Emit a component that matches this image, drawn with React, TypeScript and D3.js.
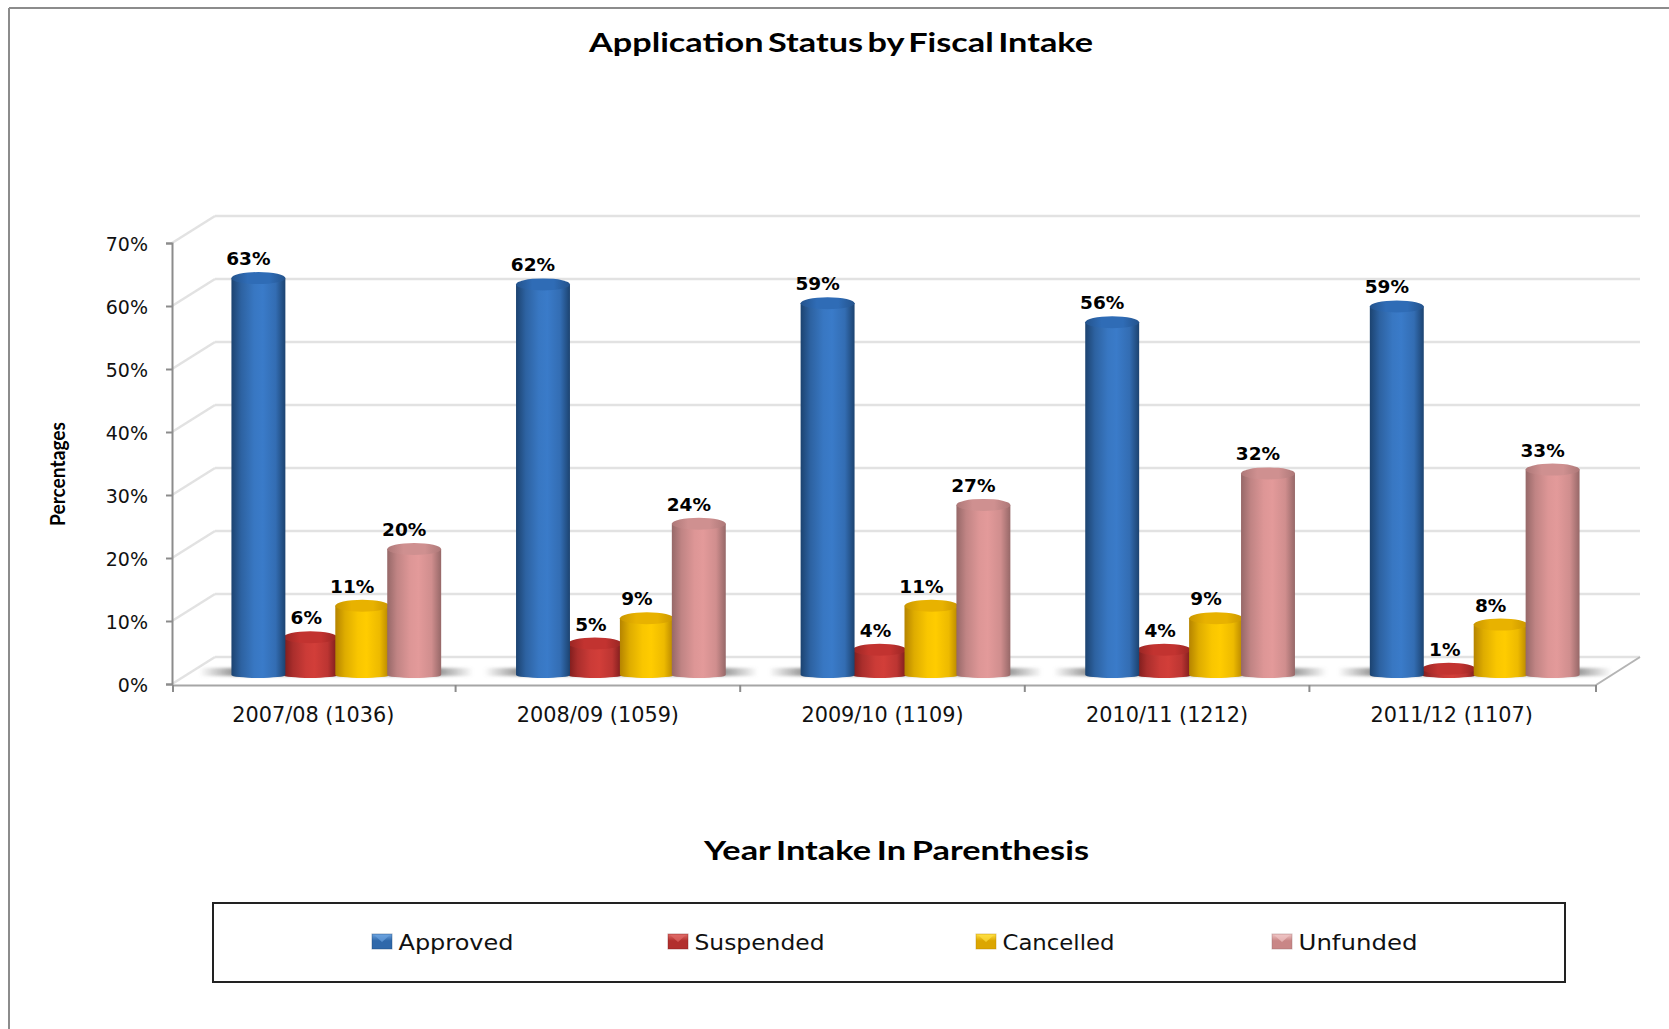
import * as d3 from "d3";
import React, { useRef, useEffect } from 'react'

const categories = ["2007/08 (1036)", "2008/09 (1059)", "2009/10 (1109)", "2010/11 (1212)", "2011/12 (1107)"]
const seriesNames = ["Approved", "Suspended", "Cancelled", "Unfunded"]
const approved = [63, 62, 59, 56, 58.5]
const suspended = [6, 5, 4, 4, 1]
const cancelled = [11, 9, 11, 9, 8]
const unfunded = [20, 24, 27, 32, 32.6]
const yTicks = [0, 10, 20, 30, 40, 50, 60, 70]

const seriesValues = [approved, suspended, cancelled, unfunded]

// edge, centre, top of each cylinder
const barColors = [
  { edge: "#1c4370", mid: "#3a7bc9", top: "#2f6cb6", swatch: "#2f68aa", light: "#6ba3e0" },
  { edge: "#7a1b1b", mid: "#d23e39", top: "#c23330", swatch: "#b22f2d", light: "#e06a66" },
  { edge: "#b58400", mid: "#ffcc00", top: "#e8b200", swatch: "#dca600", light: "#ffdf40" },
  { edge: "#966868", mid: "#e39a9a", top: "#cf9090", swatch: "#c98686", light: "#f0c4c4" },
]

// the order the cylinders overlap in
const drawOrder = [1, 0, 2, 3]
const labelShift = [-10, -4, -10, -10]
const legendX = [372, 668, 976, 1272]
const legendW = [115, 130, 112, 119]

const W = 1669
const H = 1029
const depthX = 43
const depthY = 27
const axisFont = "'DejaVu Sans', sans-serif"
const titleFont = "Lato, sans-serif"

const x = d3.scaleBand(categories, [173, 1596])
const y = d3.scaleLinear([0, 70], [684, 243])
const inner = d3.scaleBand(seriesNames, [0, x.bandwidth()]).paddingOuter(0.74)

// bars stand about half way into the floor
const barX = (cat: string, name: string) => (x(cat) as number) + 20 + (inner(name) as number)
const barY = (v: number) => y(v) - 9
const barW = inner.bandwidth() + 2

const cylinder = (x0: number, top: number, w: number) => {
  const bottom = barY(0)
  return `M${x0},${top} L${x0},${bottom} A${w / 2},3 0 0 0 ${x0 + w},${bottom} L${x0 + w},${top} Z`
}

const App: React.FC = () => {
  const gx = useRef<SVGGElement>(null)
  const gy = useRef<SVGGElement>(null)

  useEffect(() => {
    if (gy.current) {
      const g = d3.select(gy.current)
      g.call(d3.axisLeft(y).tickValues(yTicks).tickSize(6).tickPadding(18).tickFormat(d => `${d}%`))
      g.selectAll("path,line").attr("stroke", "#8c8c8c").attr("stroke-width", 2)
      g.selectAll("text").attr("font-size", 19).attr("font-family", axisFont).attr("fill", "#111").attr("dy", "0.42em")
    }
    if (gx.current) {
      const g = d3.select(gx.current)
      g.call(d3.axisBottom(x).tickSize(0).tickPadding(22))
      g.select("path").attr("stroke", "#a6a6a6").attr("stroke-width", 2)
      g.selectAll("text").attr("font-size", 20.8).attr("font-family", axisFont).attr("fill", "#111").attr("dx", -2)
      g.selectAll("line.edge")
        .data([...categories.map((c, i) => (x(c) as number) - (i ? 2 : 0)), 1596])
        .join("line")
        .attr("class", "edge")
        .attr("x1", d => d).attr("x2", d => d)
        .attr("y1", 0).attr("y2", 7)
        .attr("stroke", "#8c8c8c").attr("stroke-width", 2)
    }
  }, [])

  return (
    <svg width={W} height={H} style={{ position: "absolute", left: 0, top: 0, background: "#fff" }}>
      <defs>
        {barColors.map((c, i) => {
          const mix = d3.interpolateRgb(c.edge, c.mid)
          const mixTop = d3.interpolateRgb(c.edge, c.top)
          return (
            <React.Fragment key={i}>
              <linearGradient id={`body${i}`} x1="0" x2="1" y1="0" y2="0">
                <stop offset="0" stopColor={c.edge} />
                <stop offset="0.18" stopColor={mix(0.55)} />
                <stop offset="0.42" stopColor={mix(0.92)} />
                <stop offset="0.58" stopColor={c.mid} />
                <stop offset="0.82" stopColor={mix(0.75)} />
                <stop offset="1" stopColor={c.edge} />
              </linearGradient>
              <linearGradient id={`cap${i}`} x1="0" x2="1" y1="0" y2="0">
                <stop offset="0" stopColor={mixTop(0.4)} />
                <stop offset="0.3" stopColor={c.top} />
                <stop offset="0.7" stopColor={c.top} />
                <stop offset="1" stopColor={mixTop(0.4)} />
              </linearGradient>
              <linearGradient id={`swatch${i}`} x1="0" x2="0" y1="0" y2="1">
                <stop offset="0" stopColor={c.light} />
                <stop offset="0.45" stopColor={c.swatch} />
                <stop offset="1" stopColor={c.swatch} />
              </linearGradient>
            </React.Fragment>
          )
        })}
        <linearGradient id="floorShadow" x1="0" x2="1" y1="0" y2="0">
          <stop offset="0" stopColor="#808080" stopOpacity={0} />
          <stop offset="0.13" stopColor="#808080" stopOpacity={0.85} />
          <stop offset="0.87" stopColor="#808080" stopOpacity={0.85} />
          <stop offset="1" stopColor="#808080" stopOpacity={0} />
        </linearGradient>
        <filter id="soft" x="-10%" y="-50%" width="120%" height="200%">
          <feGaussianBlur stdDeviation="1.5" />
        </filter>
      </defs>

      {/* outer frame, only top and left show */}
      <line x1={9} x2={W} y1={8} y2={8} stroke="#8c8c8c" strokeWidth={2} />
      <line x1={9} x2={9} y1={8} y2={H} stroke="#8c8c8c" strokeWidth={2} />

      <text x={589} y={52} fontFamily={titleFont} fontWeight={700} fontSize={27} wordSpacing={-3} textLength={504} lengthAdjust="spacingAndGlyphs">
        Application Status by Fiscal Intake
      </text>

      {/* back wall and side wall */}
      {yTicks.map(t => (
        <g key={t} stroke="#e2e2e2" strokeWidth={2.5} fill="none">
          <line x1={172 + depthX} x2={1640} y1={y(t) - depthY} y2={y(t) - depthY} />
          <line x1={172} x2={172 + depthX} y1={y(t)} y2={y(t) - depthY} />
        </g>
      ))}
      <line x1={1596} x2={1640} y1={685} y2={657} stroke="#b4b4b4" strokeWidth={2} />

      {/* floor shadows */}
      {categories.map(c => (
        <rect key={c}
              x={barX(c, seriesNames[0]) - 32}
              y={barY(0) - 7}
              width={inner.step() * 4 + 66}
              height={8}
              fill="url(#floorShadow)"
              filter="url(#soft)" />
      ))}

      <g ref={gy} transform="translate(172,0)" />
      <g ref={gx} transform="translate(0,685)" />

      {categories.map((c, ci) => drawOrder.map(si => {
        const name = seriesNames[si]
        const v = seriesValues[si][ci]
        const x0 = barX(c, name)
        return (
          <g key={c + name}>
            <path d={cylinder(x0, barY(v), barW)} fill={`url(#body${si})`} />
            <ellipse cx={x0 + barW / 2} cy={barY(v)} rx={barW / 2} ry={6} fill={`url(#cap${si})`} />
          </g>
        )
      }))}

      {categories.map((c, ci) => seriesNames.map((name, si) => {
        const v = seriesValues[si][ci]
        return (
          <text key={c + name}
                x={barX(c, name) + barW / 2 + labelShift[si]}
                y={barY(v) - 13}
                textAnchor="middle"
                fontFamily={axisFont}
                fontWeight={700}
                fontSize={18.5}
                fill="#000">
            {Math.round(v)}%
          </text>
        )
      }))}

      <text transform="translate(65,526) rotate(-90)" fontFamily={titleFont} fontWeight={700} fontSize={21} textLength={104} lengthAdjust="spacingAndGlyphs">
        Percentages
      </text>

      <text x={704} y={860} fontFamily={titleFont} fontWeight={700} fontSize={27} wordSpacing={-2} textLength={385} lengthAdjust="spacingAndGlyphs">
        Year Intake In Parenthesis
      </text>

      <rect x={213} y={903} width={1352} height={79} fill="none" stroke="#222" strokeWidth={2} />
      {seriesNames.map((name, i) => (
        <g key={name} transform={`translate(${legendX[i]},934)`}>
          <rect width={20} height={15} fill={`url(#swatch${i})`} stroke={barColors[i].edge} strokeOpacity={0.4} />
          <path d="M2,1 L18,1 L10,8 Z" fill={barColors[i].light} opacity={0.7} />
          <text x={26.5} y={16} fontFamily={axisFont} fontSize={21.5} textLength={legendW[i]} lengthAdjust="spacingAndGlyphs" fill="#111">{name}</text>
        </g>
      ))}
    </svg>
  )
}

export default App
